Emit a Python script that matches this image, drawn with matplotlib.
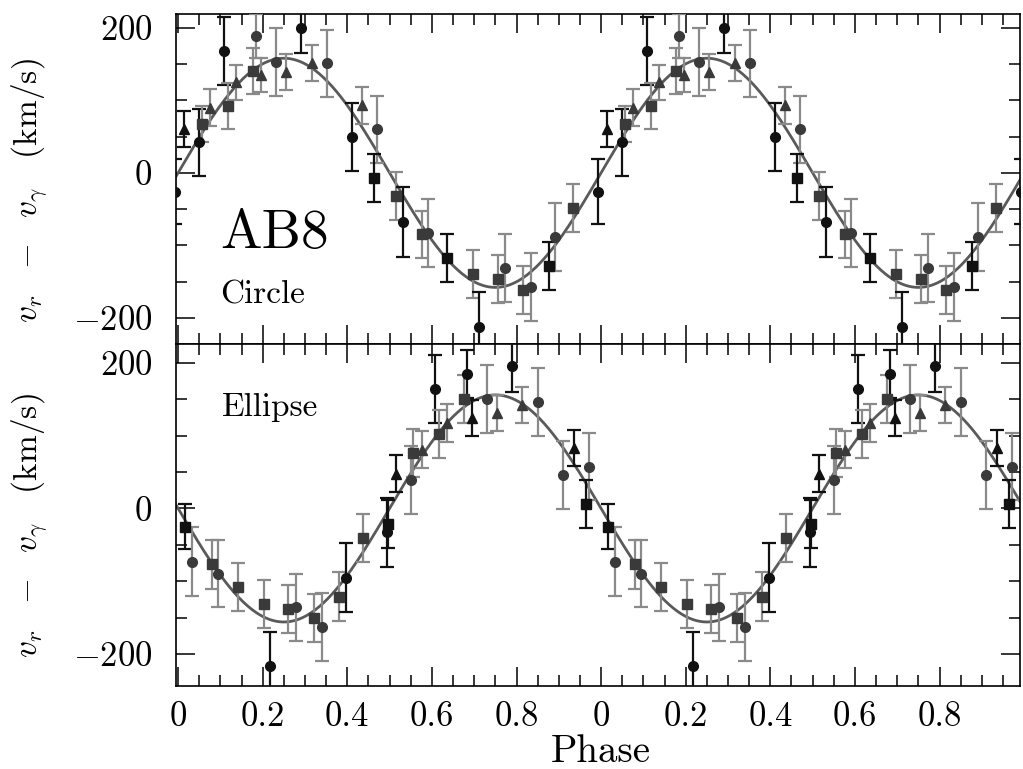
import numpy as np
import matplotlib
matplotlib.use("Agg")
import matplotlib.pyplot as plt
from matplotlib.ticker import MultipleLocator, FixedLocator, FixedFormatter

plt.rcParams['font.family'] = ['cmr10', 'DejaVu Serif']
plt.rcParams['mathtext.fontset'] = 'cm'
plt.rcParams['axes.unicode_minus'] = False

# ---- data (one cycle, repeated over two) ----
# top panel: circular orbit fit
circ_phase = [0.014, 0.050, 0.057, 0.076, 0.109, 0.118, 0.137, 0.177, 0.184, 0.196,
              0.232, 0.255, 0.291, 0.317, 0.352, 0.411, 0.435, 0.470, 0.463, 0.515,
              0.532, 0.577, 0.591, 0.636, 0.697, 0.712, 0.757, 0.773, 0.816, 0.834,
              0.877, 0.891, 0.934, 0.993]
circ_v = [60, 42, 67, 90, 168, 92, 125, 140, 189, 135,
          153, 139, 200, 151, 151, 49, 93, 60, -7, -32,
          -68, -85, -83, -117, -139, -212, -146, -131, -161, -157,
          -129, -89, -49, -26]
circ_err = [25, 46, 25, 25, 47, 32, 24, 32, 30, 24,
            47, 25, 35, 25, 46, 47, 25, 46, 33, 33,
            48, 33, 47, 33, 33, 47, 33, 47, 33, 47,
            33, 47, 33, 45]
circ_mark = ['^', 'o', 's', '^', 'o', 's', '^', 's', 'o', '^',
             'o', '^', 'o', '^', 'o', 'o', '^', 'o', 's', 's',
             'o', 's', 'o', 's', 's', 'o', 's', 'o', 's', 'o',
             's', 'o', 's', 'o']
circ_dark = [1, 1, 0, 0, 1, 0, 0, 0, 0, 0,
             0, 0, 1, 0, 0, 1, 0, 0, 1, 0,
             1, 0, 0, 1, 0, 1, 0, 0, 0, 0,
             1, 0, 0, 1]

# bottom panel: elliptical orbit fit
ell_phase = [0.017, 0.033, 0.080, 0.095, 0.142, 0.203, 0.217, 0.260, 0.279, 0.322,
             0.340, 0.380, 0.397, 0.437, 0.494, 0.496, 0.515, 0.551, 0.556, 0.577,
             0.608, 0.617, 0.636, 0.676, 0.683, 0.695, 0.730, 0.754, 0.789, 0.813,
             0.851, 0.910, 0.936, 0.972, 0.965]
ell_v = [-25, -73, -77, -90, -108, -131, -217, -138, -136, -150,
         -163, -121, -95, -41, -33, -21, 48, 39, 76, 81,
         164, 102, 117, 150, 185, 124, 150, 131, 196, 142,
         146, 46, 83, 57, 6]
ell_err = [31, 47, 33, 46, 33, 33, 47, 33, 46, 33,
           47, 33, 47, 33, 47, 33, 25, 47, 33, 26,
           47, 33, 26, 33, 33, 25, 47, 25, 36, 25,
           47, 47, 25, 46, 33]
ell_mark = ['s', 'o', 's', 'o', 's', 's', 'o', 's', 'o', 's',
            'o', 's', 'o', 's', 'o', 's', '^', 'o', 's', '^',
            'o', 's', '^', 's', 'o', '^', 'o', '^', 'o', '^',
            'o', 'o', '^', 'o', 's']
ell_dark = [1, 0, 0, 0, 0, 0, 1, 0, 0, 0,
            0, 0, 1, 0, 1, 1, 1, 0, 0, 0,
            1, 0, 0, 0, 1, 1, 0, 0, 1, 0,
            0, 0, 1, 0, 1]

# fitted semi-amplitudes (km/s)
K_circle = 158
K_ellipse = -156

xtick_pos = [0, 0.2, 0.4, 0.6, 0.8, 1.0, 1.2, 1.4, 1.6, 1.8]
xtick_lab = ['0', '0.2', '0.4', '0.6', '0.8', '0', '0.2', '0.4', '0.6', '0.8']
ytick_pos = [-200, 0, 200]
ytick_lab = [r'$-200$', r'$0$', r'$200$']

fig = plt.figure(figsize=(10.23, 7.69), dpi=100)
ax1 = fig.add_axes([0.172, 0.5527, 0.825, 0.4291])
ax2 = fig.add_axes([0.172, 0.1079, 0.825, 0.4448])

dark = '#111111'
gray = '#8a8a8a'
curve_col = '#5a5a5a'


def draw_panel(ax, phase, v, err, mark, darkflag, K, ylim):
    ph_fine = np.linspace(-0.02, 2.02, 600)
    ax.plot(ph_fine, K * np.sin(2 * np.pi * ph_fine), color=curve_col, lw=2.0, zorder=2)
    for shift in (-1, 0, 1):
        for p, y, e, m, d in zip(phase, v, err, mark, darkflag):
            ec = dark if d else gray
            fc = dark if d else '#3a3a3a'
            ax.errorbar(p + shift, y, yerr=e, fmt=m, color=ec, mfc=fc, mec=fc,
                        ms=7 if m != '^' else 6.5, elinewidth=1.6, capsize=5,
                        capthick=1.6, zorder=3)
    ax.set_xlim(-0.005, 1.99)
    ax.set_ylim(*ylim)
    ax.xaxis.set_major_locator(FixedLocator(xtick_pos))
    ax.xaxis.set_major_formatter(FixedFormatter(xtick_lab))
    ax.xaxis.set_minor_locator(MultipleLocator(0.05))
    ax.yaxis.set_major_locator(FixedLocator(ytick_pos))
    ax.yaxis.set_major_formatter(FixedFormatter(ytick_lab))
    ax.yaxis.set_minor_locator(MultipleLocator(50))
    ax.tick_params(which='both', direction='in', top=True, right=True, width=1.1)
    ax.tick_params(which='major', length=14)
    ax.tick_params(which='minor', length=8)
    ax.tick_params(axis='y', labelsize=25, pad=17)
    ax.tick_params(axis='x', labelsize=25, pad=11)
    for s in ax.spines.values():
        s.set_linewidth(1.2)


draw_panel(ax1, circ_phase, circ_v, circ_err, circ_mark, circ_dark, K_circle, (-236, 219))
draw_panel(ax2, ell_phase, ell_v, ell_err, ell_mark, ell_dark, K_ellipse, (-244, 226))
ax1.tick_params(labelbottom=False)

ax1.text(0.052, 0.29, 'AB8', transform=ax1.transAxes, fontsize=40)
ax1.text(0.052, 0.124, 'Circle', transform=ax1.transAxes, fontsize=24)
ax2.text(0.055, 0.79, 'Ellipse', transform=ax2.transAxes, fontsize=24)

ylab = r'$v_r\ \ -\ \ v_\gamma\ \ \ (\mathrm{km/s})$'
fig.text(30 / 1023, 0.752, ylab, rotation=90, ha='center', va='center', fontsize=24)
fig.text(30 / 1023, 0.317, ylab, rotation=90, ha='center', va='center', fontsize=24)
fig.text(601 / 1023, 1 - 752 / 769, 'Phase', ha='center', va='center', fontsize=28)

plt.savefig('out.png', dpi=100)
